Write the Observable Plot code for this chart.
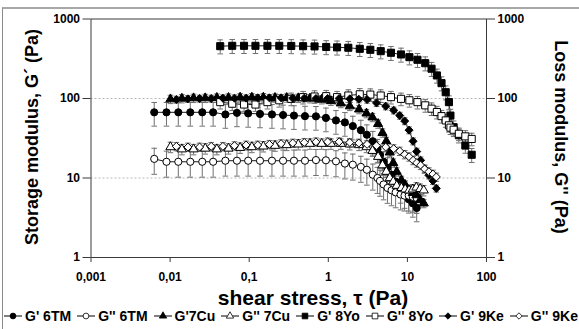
<!DOCTYPE html>
<html><head><meta charset="utf-8">
<script src="https://cdn.jsdelivr.net/npm/d3@7"></script>
<script src="https://cdn.jsdelivr.net/npm/@observablehq/plot@0.6"></script>
<style>
body{margin:0;background:#fff;}
#wrap{position:relative;width:579px;height:329px;overflow:hidden;font-family:"Liberation Sans",Arial,sans-serif;font-weight:bold;color:#000;background:#fff;}
#border{position:absolute;left:2px;top:7px;width:640px;height:400px;border-top:2px solid #a8a8a8;border-left:1px solid #8a8a8a;}
#chart{position:absolute;left:0;top:0;}
.title{position:absolute;white-space:nowrap;font-size:18px;line-height:1;}
#legend{position:absolute;left:4px;top:308px;width:574px;display:flex;justify-content:space-between;align-items:center;font-size:14px;white-space:nowrap;}
#legend .it{display:flex;align-items:center;}
#legend svg{margin-right:3px;}
</style></head>
<body>
<div id="wrap">
  <div id="border"></div>
  <div id="chart"></div>
  <div class="title" id="ylab" style="left:32px;top:137px;transform:translate(-50%,-50%) rotate(-90deg);">Storage modulus, G´ (Pa)</div>
  <div class="title" id="y2lab" style="left:561px;top:137px;transform:translate(-50%,-50%) rotate(90deg);">Loss modulus, G'' (Pa)</div>
  <div class="title" id="xlab" style="left:313px;top:297px;transform:translate(-50%,-50%);font-size:21px;">shear stress, τ (Pa)</div>
  <div id="legend"></div>
</div>
<script>
// ---- tick values / labels ----
const xTicks = [0.001, 0.01, 0.1, 1, 10, 100];
const xTickLabels = ["0,001", "0,01", "0,1", "1", "10", "100"];
const yTicks = [1, 10, 100, 1000];
const yTickLabels = ["1", "10", "100", "1000"];
const gridY = [10, 100];

// ---- series names ----
const seriesNames = ["G' 6TM", "G'' 6TM", "G'7Cu", "G'' 7Cu", "G' 8Yo", "G'' 8Yo", "G' 9Ke", "G'' 9Ke"];

// ---- 6TM ----
const tm6_x  = [0.0063,0.009,0.0127,0.018,0.0255,0.035,0.05,0.07,0.097,0.137,0.194,0.268,0.368,0.507,0.698,0.933,1.25,1.62,2.04,2.58,3.07,3.65,4.18,4.5,5.0,5.6,6.3,7.1,8.2,9.2,10.4,11.7,13.1];
const tm6_G1 = [67,67,67,67,67,67,63,66,65,64,63,62,61,60,59.6,57,53,50,45,40,35,29,23,19.5,16,13.5,11,9,7.2,6.2,5.4,4.8,4.2];
const tm6_G2 = [17.4,16,16,16,16,16,16.5,16.5,16.5,16.5,16.5,16.5,16.5,16.5,16.8,16.7,16.2,15.2,14.7,13.8,12.7,11,10,9.2,8.3,7.5,7.0,6.6,6.2,6.0,6.0,5.8,5.6];

// ---- 7Cu ----
const cu7_x  = [0.0101,0.0141,0.0198,0.0278,0.039,0.0547,0.0768,0.108,0.151,0.212,0.298,0.417,0.586,0.824,1.08,1.44,1.87,2.45,3.04,3.62,4.26,4.84,5.41,5.98,6.62,7.33,8.4,9.38,10.5,11.7,13.0,14.5,16.1];
const cu7_G1 = [98,100,101,101,102,102,103,103,103,102,102,101,100,97,93,87,80,73,65,58,48,37,29,21,15.5,12,9.4,8.2,7.0,6.5,6.1,5.3,4.8];
const cu7_G2 = [24.5,23,23,23.5,23,23.5,24,24.5,25,25.5,26,26.5,27,27,27,27,26.5,26,24.5,22,18.5,14.5,12,10,9,8,7.5,7.2,7.0,7.2,7.6,7.3,7.0];

// ---- 8Yo ----
const yo8_x  = [0.043,0.061,0.086,0.12,0.17,0.24,0.34,0.48,0.67,0.94,1.29,1.79,2.5,3.4,4.6,6.2,8.3,10.6,13.4,16.8,20.2,23.6,27,30.5,33.5,35,38.4,44.7,54,65];
const yo8_G1 = [455,460,460,460,460,460,458,455,452,445,440,435,422,410,394,376,358,331,307,278,237,195,156,120,90,61,43.5,34.5,25.6,19.6];
const yo8_G2 = [90,86,84,84,90,95,99,104,106,107,104,109,113,112,109,104,99,95,90,82,74.5,67.5,60,53,46,43,40.5,36,33.4,31];

// ---- 9Ke ----
const ke9_x  = [0.012,0.0168,0.0236,0.0331,0.0465,0.0651,0.0914,0.128,0.18,0.253,0.355,0.497,0.698,0.98,1.37,1.87,2.43,3.09,4.07,5.32,6.71,8.0,9.25,10.5,11.8,13.1,14.7,16.5,18.7,21.0,23.2];
const ke9_G1 = [97,99,100,100,101,101,101,102,102,102,101,101,100,100,100,99,98,97,88,80,71,61,52,40,29,21.5,16.7,13.1,10.8,9.2,7.4];
const ke9_G2 = [25,24.5,24.5,25,25,25.5,26,26,26.5,27,27.5,28,28.5,28.5,28.5,28,27.5,26.5,25.5,24.5,23.4,21.8,19.8,18.5,16.7,15.5,14.5,13,12,11.2,10.3];

// ---- relative standard deviations (error bars), per series ----
const relErr = [0.33, 0.36, 0.12, 0.15, 0.2, 0.18, 0.1, 0.12];

// ---- styles (separate from data) ----
const styles = [
  {symbol: "circle",   filled: true,  r: 3.6},
  {symbol: "circle",   filled: false, r: 3.6},
  {symbol: "triangle", filled: true,  r: 3.4},
  {symbol: "triangle", filled: false, r: 3.4},
  {symbol: "square",   filled: true,  r: 4.0},
  {symbol: "square",   filled: false, r: 4.0},
  {symbol: "diamond2", filled: true,  r: 3.6},
  {symbol: "diamond2", filled: false, r: 3.6}
];

const xs = [tm6_x, tm6_x, cu7_x, cu7_x, yo8_x, yo8_x, ke9_x, ke9_x];
const ys = [tm6_G1, tm6_G2, cu7_G1, cu7_G2, yo8_G1, yo8_G2, ke9_G1, ke9_G2];

const seriesRows = seriesNames.map((name, i) =>
  xs[i].map((x, j) => {
    const y = ys[i][j];
    const sd = y * relErr[i];
    return {key: name, x, y, lo: Math.max(y - sd, 0.5), hi: y + sd};
  })
);
const allRows = seriesRows.flat();

const capSymbol = {
  draw(ctx, size) {
    const w = Math.sqrt(size / Math.PI);
    ctx.moveTo(-w, 0);
    ctx.lineTo(w, 0);
  }
};

const dotMarks = seriesRows.map((rows, i) =>
  Plot.dot(rows, {
    x: "x", y: "y", symbol: styles[i].symbol, r: styles[i].r,
    fill: styles[i].filled ? "#000" : "#fff", stroke: "#000", strokeWidth: 1
  })
);

const chart = Plot.plot({
  width: 579, height: 290,
  marginLeft: 90.5, marginRight: 93, marginTop: 18.5, marginBottom: 33,
  style: {fontFamily: "'Liberation Sans', Arial, sans-serif", fontSize: "12px", fontWeight: "bold", background: "transparent", color: "#000", overflow: "visible"},
  x: {type: "log", domain: [0.001, 100]},
  y: {type: "log", domain: [1, 1000]},
  marks: [
    Plot.ruleY(gridY, {stroke: "#b8b8b8", strokeDasharray: "2,2"}),
    Plot.frame({stroke: "#3a3a3a"}),
    Plot.axisX({ticks: xTicks, tickFormat: d => xTickLabels[xTicks.indexOf(d)], tickSize: 5, tickPadding: 10, label: null, stroke: "#3a3a3a", fill: "#000"}),
    Plot.axisY({anchor: "left", ticks: yTicks, tickFormat: d => yTickLabels[yTicks.indexOf(d)], tickSize: 8, tickPadding: 3, label: null, stroke: "#3a3a3a", fill: "#000"}),
    Plot.axisY({anchor: "right", ticks: yTicks, tickFormat: d => yTickLabels[yTicks.indexOf(d)], tickSize: 8, tickPadding: 3, label: null, stroke: "#3a3a3a", fill: "#000"}),
    Plot.line(allRows, {x: "x", y: "y", z: "key", stroke: "#1a1a1a", strokeWidth: 1}),
    Plot.ruleX(allRows, {x: "x", y1: "lo", y2: "hi", stroke: "#707070", strokeWidth: 1}),
    Plot.dot(allRows, {x: "x", y: "hi", symbol: capSymbol, r: 2.8, stroke: "#707070", fill: "none", strokeWidth: 1}),
    Plot.dot(allRows, {x: "x", y: "lo", symbol: capSymbol, r: 2.8, stroke: "#707070", fill: "none", strokeWidth: 1}),
    ...dotMarks
  ]
});
document.getElementById("chart").appendChild(chart);

// ---- legend ----
const legend = d3.select("#legend");
const symMap = {circle: d3.symbolCircle, triangle: d3.symbolTriangle, square: d3.symbolSquare, diamond2: d3.symbolDiamond2};
seriesNames.forEach((name, i) => {
  const it = legend.append("div").attr("class", "it");
  const svg = it.append("svg").attr("width", 18).attr("height", 10);
  svg.append("line").attr("x1", 0).attr("x2", 18).attr("y1", 5).attr("y2", 5).attr("stroke", "#000").attr("stroke-width", 1);
  const r = styles[i].r * 0.8;
  svg.append("path")
    .attr("transform", "translate(9,5)")
    .attr("d", d3.symbol(symMap[styles[i].symbol], Math.PI * r * r)())
    .attr("fill", styles[i].filled ? "#000" : "#fff")
    .attr("stroke", "#000").attr("stroke-width", 0.8);
  it.append("span").text(name);
});
</script>
</body></html>
